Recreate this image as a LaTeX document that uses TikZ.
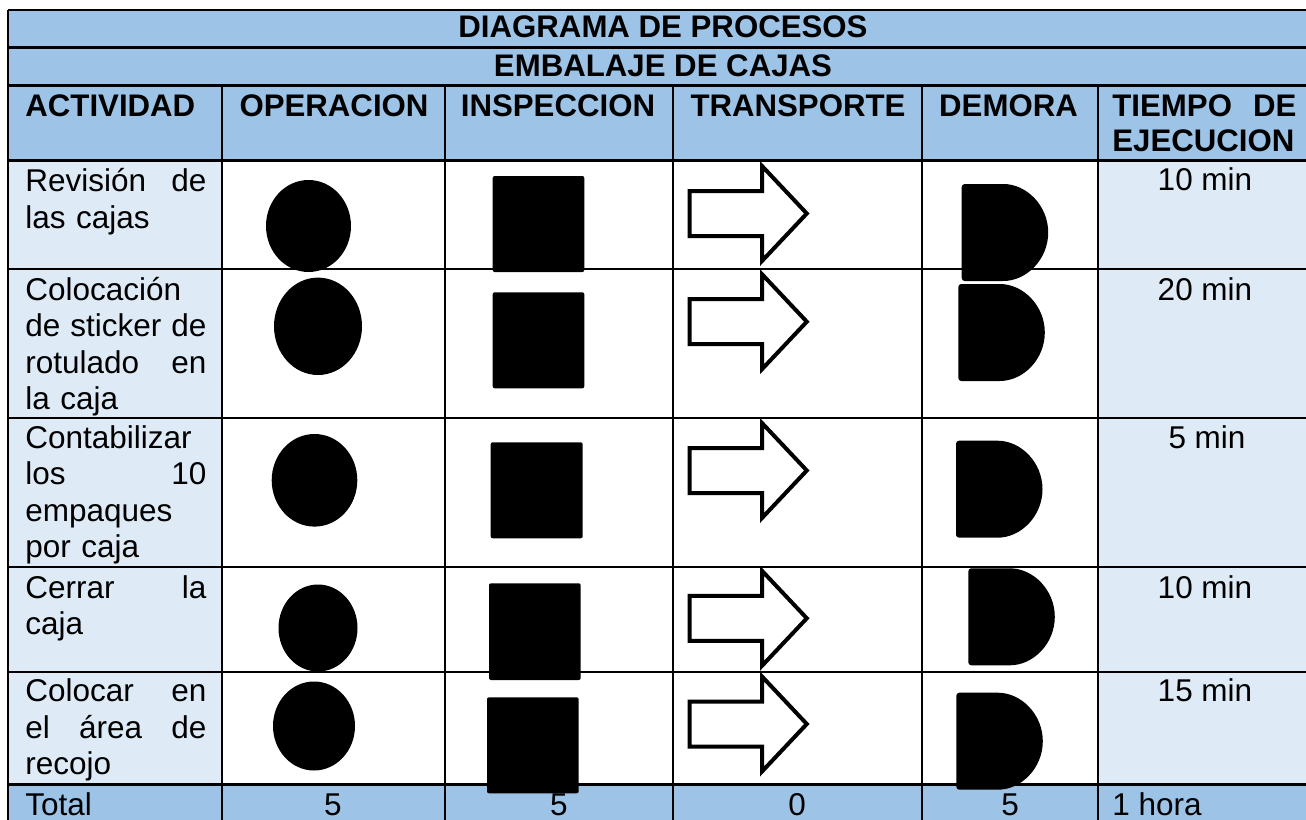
\documentclass[tikz,border=0pt]{standalone}
\usepackage{fontspec}
\setmainfont{Liberation Sans}
\definecolor{hdr}{HTML}{9DC3E6}
\definecolor{lite}{HTML}{DEEBF7}
\tikzset{
  gridline/.style={line width=1.1pt, black},
  body/.style={inner sep=0pt, font=\fontsize{15.75}{18.25}\selectfont},
  head/.style={inner sep=0pt, font=\fontsize{15.6}{17.85}\selectfont\bfseries},
  act/.style={body, anchor=base west, text width=90.5pt, align=left},
  opshape/.style={fill=black},
  insshape/.style={fill=black, rounded corners=1pt},
  transshape/.style={draw=black, fill=white, line width=2pt, miter limit=10},
  delayshape/.style={fill=black, rounded corners=1.5pt},
  transport/.pic={\path[transshape] (2,-22.5) -- (74.5,-22.5) -- (74.5,-47.5) -- (119.3,0) -- (74.5,47.5) -- (74.5,22.5) -- (2,22.5) -- cycle;},
  delay/.pic={\path[delayshape] (0,97) -- (0,0) -- (38.5,0) arc[start angle=-90,end angle=90,x radius=48,y radius=48.5] -- cycle;}
}
\begin{document}
\begin{tikzpicture}[x=0.5pt,y=-0.5pt]
\useasboundingbox (0,0) rectangle (1306,819);
\clip (0,0) rectangle (1306,819);
% fills
\fill[hdr] (8,10) rectangle (1318,160.5);
\fill[lite] (8,160.5) rectangle (222,784.5);
\fill[lite] (1098,160.5) rectangle (1318,784.5);
\fill[hdr] (8,784.5) rectangle (1318,830);
% grid
\foreach \yy in {10,47.5,85.5,160.5,269,418,567,672,784.5}
  \draw[gridline] (8,\yy) -- (1318,\yy);
\draw[gridline] (8,10) -- (8,830);
\foreach \xx in {222,445,673,922,1098}
  \draw[gridline] (\xx,85.5) -- (\xx,830);
% titles
\node[head, anchor=base] (t1) at (663,38) {DIAGRAMA DE PROCESOS};
\node[head, anchor=base] (t2) at (663,76) {EMBALAJE DE CAJAS};
% header
\node[head, anchor=base west] (h1) at (25,116) {ACTIVIDAD};
\node[head, anchor=base] (h2) at (334,116) {OPERACION};
\node[head, anchor=base] (h3) at (558,116) {INSPECCION};
\node[head, anchor=base] (h4) at (798,116) {TRANSPORTE};
\node[head, anchor=base] (h5) at (1008.5,116) {DEMORA};
\node[head, anchor=base west, text width=92pt, align=left] (h6) at (1112,116) {TIEMPO\hfill DE\\EJECUCION};
% activities
\node[act] (a1) at (25,191.5) {Revisión\hfill de\\las cajas};
\node[act] (a2) at (25,300) {Colocación\\de\hfill sticker\hfill de\\rotulado\hfill en\\la caja};
\node[act] (a3) at (25,448) {Contabilizar\\los\hfill 10\\empaques\\por caja};
\node[act] (a4) at (25,598) {Cerrar\hfill la\\caja};
\node[act] (a5) at (25,701.5) {Colocar\hfill en\\el\hfill área\hfill de\\recojo};
% times
\node[body, anchor=base] (m1) at (1205,190) {10 min};
\node[body, anchor=base] (m2) at (1205,300) {20 min};
\node[body, anchor=base] (m3) at (1207,448) {5 min};
\node[body, anchor=base] (m4) at (1205,598) {10 min};
\node[body, anchor=base] (m5) at (1205,701.5) {15 min};
% operation ellipses
\fill[opshape] (308.5,226) ellipse [x radius=42.5, y radius=46];
\fill[opshape] (318,326.3) ellipse [x radius=44, y radius=48.7];
\fill[opshape] (314.5,480.3) ellipse [x radius=42.8, y radius=46.3];
\fill[opshape] (318,628) ellipse [x radius=39.5, y radius=43.5];
\fill[opshape] (314,726) ellipse [x radius=41, y radius=44.5];
% inspection squares
\path[insshape] (492.7,176) rectangle (584.3,272);
\path[insshape] (492.7,292.3) rectangle (584.3,388.3);
\path[insshape] (490.7,442.3) rectangle (582.7,538.3);
\path[insshape] (489,583.3) rectangle (580.7,680);
\path[insshape] (487,697.3) rectangle (578.7,793.3);
% transport arrows
\pic at (687.5,213.5) {transport};
\pic at (687.5,321.7) {transport};
\pic at (687.5,470.5) {transport};
\pic at (687.5,618.3) {transport};
\pic at (687.5,724) {transport};
% delays
\pic at (961.7,184) {delay};
\pic at (958.3,284) {delay};
\pic at (956,440.7) {delay};
\pic at (968.3,568.3) {delay};
\pic at (956.3,692.7) {delay};
% totals
\node[body, anchor=base west] (s1) at (25,815) {Total};
\node[body, anchor=base] (s2) at (333,815) {5};
\node[body, anchor=base] (s3) at (559,815) {5};
\node[body, anchor=base] (s4) at (797,815) {0};
\node[body, anchor=base] (s5) at (1010,815) {5};
\node[body, anchor=base west] (s6) at (1112,815) {1 hora};
\end{tikzpicture}
\end{document}
